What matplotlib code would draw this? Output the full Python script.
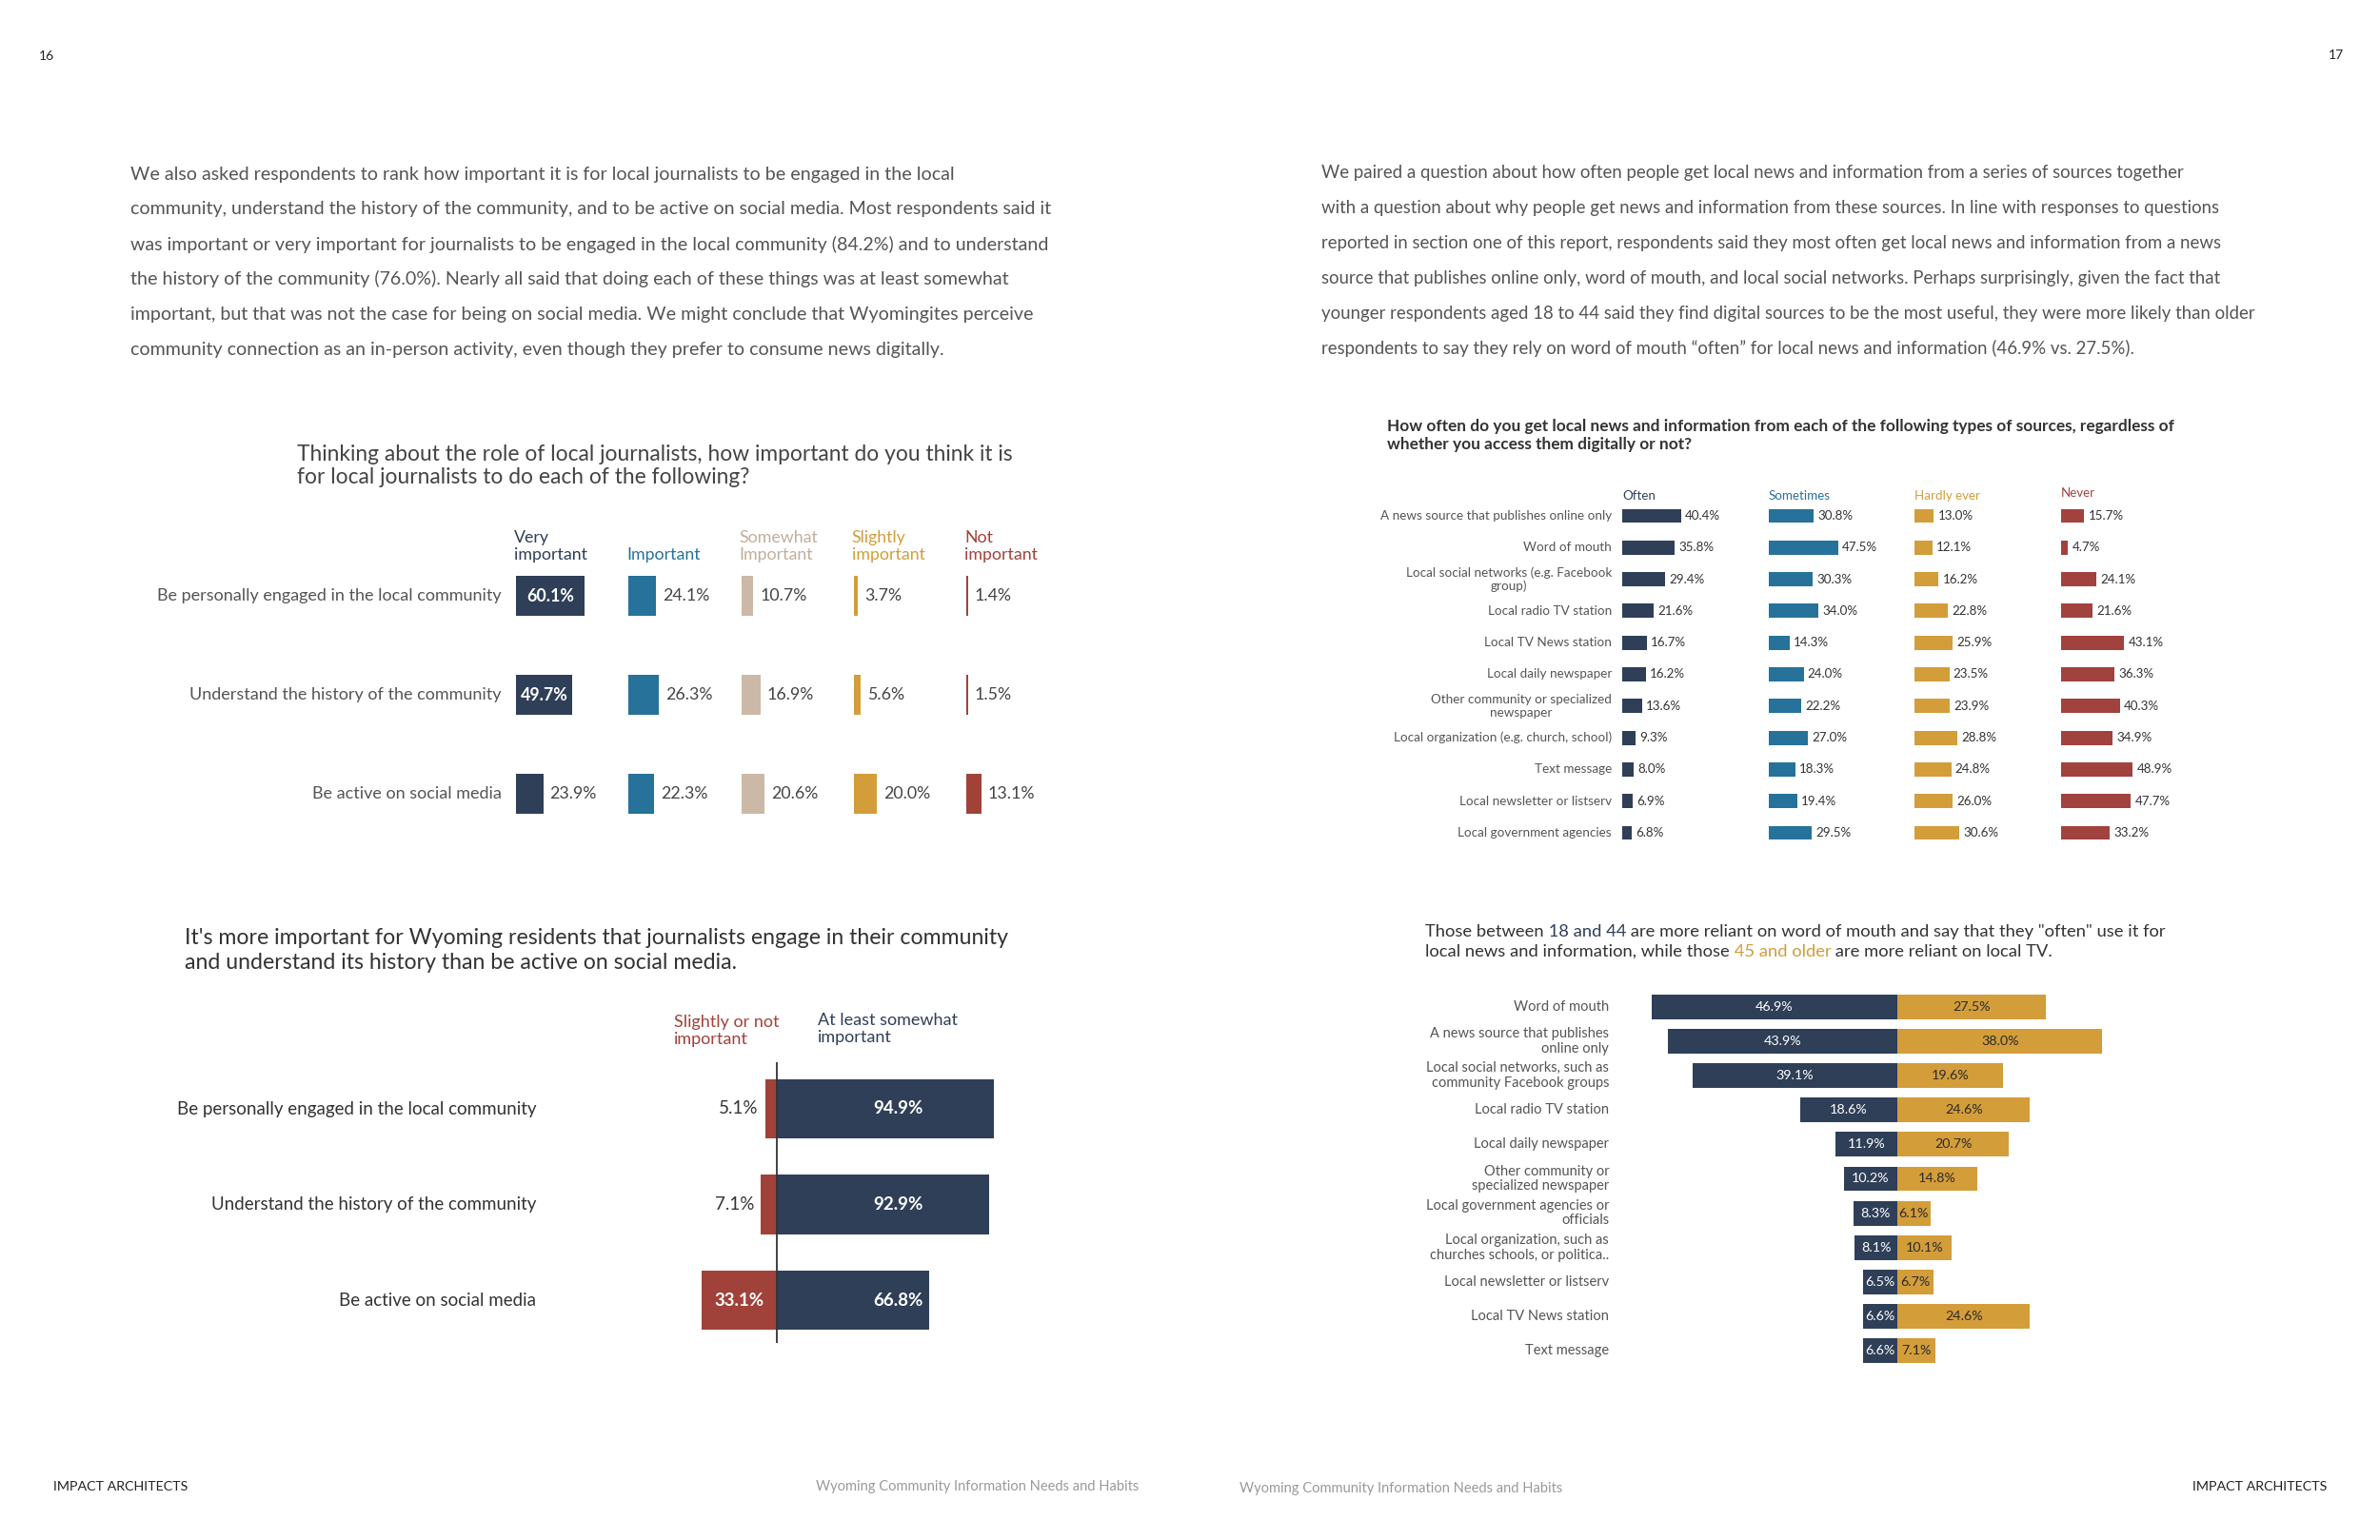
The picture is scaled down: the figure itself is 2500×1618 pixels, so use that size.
import matplotlib.pyplot as plt

# ---- data -------------------------------------------------------------
role_items = ["Be personally engaged in the local community",
              "Understand the history of the community",
              "Be active on social media"]
role_levels = ["Very\nimportant", "Important", "Somewhat\nImportant",
               "Slightly\nimportant", "Not\nimportant"]
very_important = [60.1, 49.7, 23.9]
important = [24.1, 26.3, 22.3]
somewhat_important = [10.7, 16.9, 20.6]
slightly_important = [3.7, 5.6, 20.0]
not_important = [1.4, 1.5, 13.1]

summary_levels = ["Slightly or not\nimportant", "At least somewhat\nimportant"]
slightly_or_not = [5.1, 7.1, 33.1]
at_least_somewhat = [94.9, 92.9, 66.8]

sources = ["A news source that publishes online only", "Word of mouth",
           "Local social networks (e.g. Facebook\ngroup)", "Local radio TV station",
           "Local TV News station", "Local daily newspaper",
           "Other community or specialized\nnewspaper",
           "Local organization (e.g. church, school)", "Text message",
           "Local newsletter or listserv", "Local government agencies"]
frequency_levels = ["Often", "Sometimes", "Hardly ever", "Never"]
often = [40.4, 35.8, 29.4, 21.6, 16.7, 16.2, 13.6, 9.3, 8.0, 6.9, 6.8]
sometimes = [30.8, 47.5, 30.3, 34.0, 14.3, 24.0, 22.2, 27.0, 18.3, 19.4, 29.5]
hardly_ever = [13.0, 12.1, 16.2, 22.8, 25.9, 23.5, 23.9, 28.8, 24.8, 26.0, 30.6]
never = [15.7, 4.7, 24.1, 21.6, 43.1, 36.3, 40.3, 34.9, 48.9, 47.7, 33.2]

age_sources = ["Word of mouth", "A news source that publishes\nonline only",
               "Local social networks, such as\ncommunity Facebook groups",
               "Local radio TV station", "Local daily newspaper",
               "Other community or\nspecialized newspaper",
               "Local government agencies or\nofficials",
               "Local organization, such as\nchurches schools, or politica..",
               "Local newsletter or listserv", "Local TV News station", "Text message"]
age_18_44 = [46.9, 43.9, 39.1, 18.6, 11.9, 10.2, 8.3, 8.1, 6.5, 6.6, 6.6]
age_45_plus = [27.5, 38.0, 19.6, 24.6, 20.7, 14.8, 6.1, 10.1, 6.7, 24.6, 7.1]

left_para = [
    "We also asked respondents to rank how important it is for local journalists to be engaged in the local",
    "community, understand the history of the community, and to be active on social media. Most respondents said it",
    "was important or very important for journalists to be engaged in the local community (84.2%) and to understand",
    "the history of the community (76.0%). Nearly all said that doing each of these things was at least somewhat",
    "important, but that was not the case for being on social media. We might conclude that Wyomingites perceive",
    "community connection as an in-person activity, even though they prefer to consume news digitally.",
]
right_para = [
    "We paired a question about how often people get local news and information from a series of sources together",
    "with a question about why people get news and information from these sources. In line with responses to questions",
    "reported in section one of this report, respondents said they most often get local news and information from a news",
    "source that publishes online only, word of mouth, and local social networks. Perhaps surprisingly, given the fact that",
    "younger respondents aged 18 to 44 said they find digital sources to be the most useful, they were more likely than older",
    "respondents to say they rely on word of mouth \u201coften\u201d for local news and information (46.9% vs. 27.5%).",
]

NAVY = '#2F3F58'
TEAL = '#26729A'
BEIGE = '#CBB8A6'
GOLD = '#D39D3A'
RED = '#A1423A'
LABEL = '#555555'
VALUE = '#444444'

plt.rcParams['font.family'] = ['Lato', 'DejaVu Sans']

W, H = 2500, 1618
fig = plt.figure(figsize=(W / 100, H / 100), dpi=100)
fig.patch.set_facecolor('white')


def ftext(x, y, s, **kw):
    return fig.text(x / W, 1 - y / H, s, **kw)


def px_axes(x0, y0, x1, y1):
    ax = fig.add_axes([x0 / W, 1 - y1 / H, (x1 - x0) / W, (y1 - y0) / H])
    ax.set_axis_off()
    return ax


# ---- page furniture ---------------------------------------------------
ftext(49, 59, "16", fontsize=10, color='#222222', ha='center', va='center')
ftext(2454, 58, "17", fontsize=10, color='#222222', ha='center', va='center')
for i, line in enumerate(left_para):
    ftext(137, 183 + i * 36.8, line, fontsize=14.1, color='#555555', va='center')
for i, line in enumerate(right_para):
    ftext(1388, 182 + i * 36.8, line, fontsize=13.4, color='#555555', va='center')
ftext(56, 1562, "IMPACT ARCHITECTS", fontsize=10.3, color='#222222', va='center')
ftext(2444, 1562, "IMPACT ARCHITECTS", fontsize=10.3, color='#222222', va='center', ha='right')
ftext(1196, 1562, "Wyoming Community Information Needs and Habits", fontsize=10.5,
      color='#9a9a9a', va='center', ha='right')
ftext(1302, 1564, "Wyoming Community Information Needs and Habits", fontsize=10.5,
      color='#9a9a9a', va='center')

# ---- chart 1: importance by level ---------------------------------------
ftext(312, 477, "Thinking about the role of local journalists, how important do you think it is",
      fontsize=16.4, color='#444444', va='center')
ftext(312, 502, "for local journalists to do each of the following?",
      fontsize=16.4, color='#444444', va='center')

role_values = [very_important, important, somewhat_important, slightly_important, not_important]
role_colors = [NAVY, TEAL, BEIGE, GOLD, RED]
head_colors = [NAVY, TEAL, '#C2AE9C', GOLD, RED]
col_x0, col_step, pct_px = 542, 118.3, 1.196
row_top, row_h = 574, 104
for j, (vals, c) in enumerate(zip(role_values, role_colors)):
    x0 = col_x0 + j * col_step
    ax = px_axes(x0, row_top, x0 + 100 * pct_px, row_top + 3 * row_h)
    ax.set_xlim(0, 100)
    ax.set_ylim(2.5, -0.5)
    ax.barh(range(3), vals, height=0.40, color=c)
    for i, v in enumerate(vals):
        if j == 0 and v > 40:
            ax.text(v / 2, i, f"{v:.1f}%", color='white', ha='center', va='center',
                    fontsize=12.8, fontweight='bold')
        else:
            ax.annotate(f"{v:.1f}%", xy=(v, i), xytext=(5, 0), textcoords='offset points',
                        ha='left', va='center', fontsize=12.8, color=VALUE)
    if j == 0:
        for i, name in enumerate(role_items):
            ax.annotate(name, xy=(0, i), xycoords=('axes fraction', 'data'),
                        xytext=(-11, 0), textcoords='offset points',
                        ha='right', va='center', fontsize=13, color=LABEL)
    ftext(x0 - 2, 591, role_levels[j], fontsize=12.8, color=head_colors[j],
          va='bottom', ha='left', linespacing=1.15)

# ---- chart 2: diverging summary ----------------------------------------
ftext(194, 985, "It's more important for Wyoming residents that journalists engage in their community",
      fontsize=16.7, color='#333333', va='center')
ftext(194, 1011, "and understand its history than be active on social media.",
      fontsize=16.7, color='#333333', va='center')
ftext(708, 1100, summary_levels[0], fontsize=13, color=RED, va='bottom', linespacing=1.15)
ftext(859, 1098, summary_levels[1], fontsize=13, color=NAVY, va='bottom', linespacing=1.15)

zero_px, scale2, r2_h = 816, 2.40, 100.5
ax = px_axes(zero_px - 40 * scale2, 1165 - 0.49 * r2_h, zero_px + 100 * scale2, 1165 + 2.45 * r2_h)
ax.set_xlim(-40, 100)
ax.set_ylim(2.45, -0.49)
rows = range(len(role_items))
ax.barh(rows, at_least_somewhat, height=0.62, color=NAVY)
ax.barh(rows, [-v for v in slightly_or_not], height=0.62, color=RED)
ax.axvline(0, color='#333333', lw=1.3)
for i, (neg, pos) in enumerate(zip(slightly_or_not, at_least_somewhat)):
    ax.text(53, i, f"{pos:.1f}%", color='white', ha='center', va='center',
            fontsize=13.5, fontweight='bold')
    if neg > 15:
        ax.text(-neg / 2, i, f"{neg:.1f}%", color='white', ha='center', va='center',
                fontsize=13.5, fontweight='bold')
    else:
        ax.annotate(f"{neg:.1f}%", xy=(-neg, i), xytext=(-5, 0), textcoords='offset points',
                    ha='right', va='center', fontsize=13.5, color='#333333')
    ax.annotate(role_items[i], xy=(0, i), xycoords=('axes fraction', 'data'),
                xytext=(-113, 0), textcoords='offset points',
                ha='right', va='center', fontsize=13.5, color='#333333')

# ---- chart 3: frequency by source ----------------------------------------
ftext(1457, 448, "How often do you get local news and information from each of the following types of sources, regardless of",
      fontsize=12.4, color='#333333', va='center', fontweight='bold')
ftext(1457, 467, "whether you access them digitally or not?",
      fontsize=12.4, color='#333333', va='center', fontweight='bold')

freq_values = [often, sometimes, hardly_ever, never]
freq_colors = [NAVY, TEAL, GOLD, '#A1423F']
f_x0, f_step, f_pct = 1704, 153.7, 1.538
f_row0, f_rh = 542, 33.3
for j, (vals, c) in enumerate(zip(freq_values, freq_colors)):
    x0 = f_x0 + j * f_step
    ax = px_axes(x0, f_row0 - 0.5 * f_rh, x0 + 100 * f_pct, f_row0 + 10.5 * f_rh)
    ax.set_xlim(0, 100)
    ax.set_ylim(10.5, -0.5)
    ax.barh(range(len(vals)), vals, height=0.45, color=c)
    for i, v in enumerate(vals):
        ax.annotate(f"{v:.1f}%", xy=(v, i), xytext=(3, 0), textcoords='offset points',
                    ha='left', va='center', fontsize=9.6, color='#333333')
    if j == 0:
        for i, name in enumerate(sources):
            ax.annotate(name, xy=(0, i), xycoords=('axes fraction', 'data'),
                        xytext=(-8, 0), textcoords='offset points', ha='right',
                        va='center', multialignment='center', fontsize=9.7,
                        color=LABEL, linespacing=1.2)
    ftext(x0, 521 if j < 3 else 518, frequency_levels[j], fontsize=9.6,
          color=c, va='center')

# ---- chart 4: age groups ------------------------------------------------
renderer = fig.canvas.get_renderer()


def rich_line(x, y, parts, size):
    for s, color in parts:
        t = ftext(x, y, s, fontsize=size, color=color, va='center')
        x += t.get_window_extent(renderer).width


rich_line(1497, 979, [("Those between", '#333333'), (" 18 and 44", NAVY),
                      (" are more reliant on word of mouth and say that they \"often\" use it for", '#333333')], 13.2)
rich_line(1497, 1000, [("local news and information, while those", '#333333'), (" 45 and older", GOLD),
                       (" are more reliant on local TV.", '#333333')], 13.2)

center_px, a_row0, a_rh = 1993, 1058, 36.1
left_scale, right_scale = 5.50, 5.67
top_px, bot_px = a_row0 - 0.5 * a_rh, a_row0 + 10.5 * a_rh
ax_l = px_axes(center_px - 50 * left_scale, top_px, center_px, bot_px)
ax_r = px_axes(center_px, top_px, center_px + 40 * right_scale, bot_px)
ax_l.set_xlim(-50, 0)
ax_r.set_xlim(0, 40)
for a in (ax_l, ax_r):
    a.set_ylim(10.5, -0.5)
rows = range(len(age_sources))
ax_l.barh(rows, [-v for v in age_18_44], height=0.72, color=NAVY)
ax_r.barh(rows, age_45_plus, height=0.72, color=GOLD)
for i, (a, b) in enumerate(zip(age_18_44, age_45_plus)):
    ax_l.text(-a / 2, i, f"{a:.1f}%", color='white', ha='center', va='center', fontsize=10.3)
    ax_r.text(b / 2, i, f"{b:.1f}%", color='#2b2b2b', ha='center', va='center', fontsize=10.3)
    ax_l.annotate(age_sources[i], xy=(0, i), xycoords=('axes fraction', 'data'),
                  xytext=(-20, 0), textcoords='offset points', ha='right', va='center',
                  multialignment='right', fontsize=10.5, color=LABEL, linespacing=1.15)

fig.savefig('out.png', dpi=100, facecolor='white')
